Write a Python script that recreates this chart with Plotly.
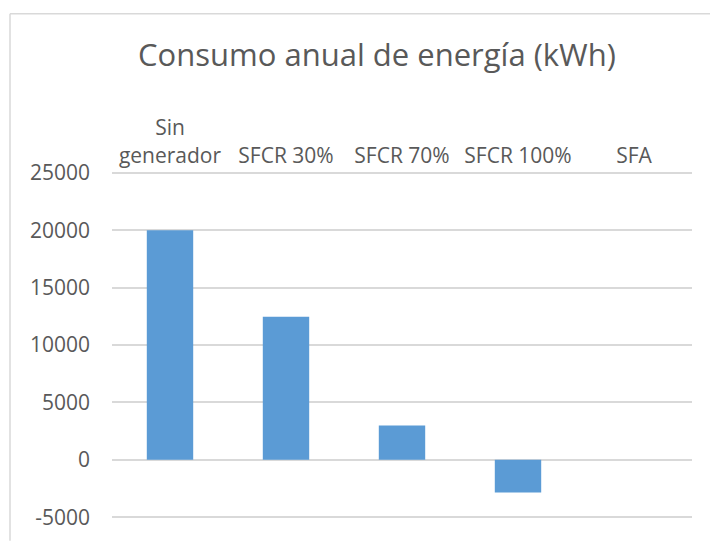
import plotly.graph_objects as go

categories = ["Sin<br>generador", "SFCR 30%", "SFCR 70%", "SFCR 100%", "SFA"]
values = [20000, 12450, 3000, -2850, 0]
tick_vals = [-5000, 0, 5000, 10000, 15000, 20000, 25000]
tick_text = ["-5000", "0", "5000", "10000", "15000", "20000", "25000"]

FONT = "Open Sans"
GRAY = "#595959"

fig = go.Figure(go.Bar(x=categories, y=values, marker=dict(color="#5b9bd5", line=dict(width=0)), width=0.4))

# plot area: 171..523 px (352 px) for range [-5150, 25150]
fig.update_layout(
    width=710, height=543,
    margin=dict(l=112, r=18, t=171, b=20),
    paper_bgcolor="white", plot_bgcolor="white",
    showlegend=False,
    font=dict(family=FONT, color=GRAY, size=21),
    title=dict(text="Consumo anual de energía (kWh)", x=377/710, xanchor="center",
               y=1-55/543, yanchor="middle", yref="container", xref="container",
               font=dict(family=FONT, size=31, color=GRAY)),
    xaxis=dict(side="top", showgrid=False, showline=False, ticks="", tickfont=dict(size=21, color=GRAY),
               ticklabelstandoff=3),
    yaxis=dict(range=[-5150, 25150], tickvals=tick_vals, ticktext=tick_text, showgrid=True,
               gridcolor="#d9d9d9", gridwidth=2, zeroline=True, zerolinecolor="#d9d9d9", zerolinewidth=2,
               showline=False, ticks="", tickfont=dict(size=21, color=GRAY), ticklabelstandoff=21),
    shapes=[
        dict(type="line", xref="paper", yref="paper", x0=(10-112)/580, x1=(712-112)/580,
             y0=(523-12)/352, y1=(523-12)/352, line=dict(color="#d9d9d9", width=1.5)),
        dict(type="line", xref="paper", yref="paper", x0=(10-112)/580, x1=(10-112)/580,
             y0=(523-12)/352, y1=(523-545)/352, line=dict(color="#d9d9d9", width=1.5)),
    ],
)

fig.write_html("out.html", config={"displayModeBar": False},
               post_script="document.body.style.margin='0px';")
